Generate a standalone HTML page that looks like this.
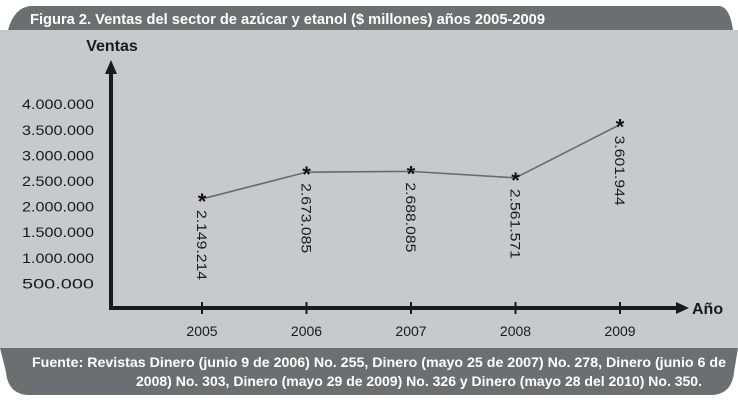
<!DOCTYPE html>
<html><head><meta charset="utf-8"><style>
html,body{margin:0;padding:0;background:#fff;}
svg{display:block;font-family:"Liberation Sans Narrow","Liberation Sans",sans-serif;}
</style></head><body>
<svg width="738" height="400" viewBox="0 0 738 400">
<path d="M8,30 Q14,8 30,6 L720,6 Q730,8 733,30 Z" fill="#6d6e71"/>
<text x="30" y="24" fill="#fff" font-weight="bold" font-size="15" textLength="515" lengthAdjust="spacingAndGlyphs">Figura 2. Ventas del sector de azúcar y etanol  ($ millones) años 2005-2009</text>
<rect x="0" y="30" width="738" height="318" fill="#c8c9cb"/>
<path d="M0,348 L738,348 L734,372 Q732,394 712,395 L28,395 Q8,394 6,372 Z" fill="#6d6e71"/>
<text x="32" y="367" fill="#fff" font-weight="bold" font-size="14" textLength="694" lengthAdjust="spacingAndGlyphs">Fuente: Revistas Dinero (junio 9 de 2006)  No. 255, Dinero (mayo 25 de 2007)  No. 278, Dinero (junio 6 de</text>
<text x="136" y="386" fill="#fff" font-weight="bold" font-size="14" textLength="566" lengthAdjust="spacingAndGlyphs">2008)  No. 303,  Dinero (mayo 29 de 2009) No. 326 y Dinero (mayo 28 del 2010) No. 350.</text>
<g id="plot"></g>
</svg>
<script>
const years = ["2005","2006","2007","2008","2009"];
const sales = [2149214, 2673085, 2688085, 2561571, 3601944];
const valueLabels = ["2.149.214","2.673.085","2.688.085","2.561.571","3.601.944"];
const yTicks = [500000,1000000,1500000,2000000,2500000,3000000,3500000,4000000];
const yTickLabels = ["500.000","1.000.000","1.500.000","2.000.000","2.500.000","3.000.000","3.500.000","4.000.000"];

const NS="http://www.w3.org/2000/svg";
const g=document.getElementById('plot');
const X0=202, DX=104.5, Y0=309, PER=25.6/500000;
const xs=i=>X0+i*DX;
const ys=v=>Y0-v*PER;
function mk(t,a,txt){const e=document.createElementNS(NS,t);for(const k in a)e.setAttribute(k,a[k]);if(txt!=null)e.textContent=txt;g.appendChild(e);return e;}

let e;
e=mk('line',{x1:111,y1:308,x2:111,y2:72,stroke:'#1a1a1a','stroke-width':4});


e=mk('polygon',{points:'105,74 117,74 111,60',fill:'#1a1a1a'});


e=mk('line',{x1:109,y1:308,x2:678,y2:308,stroke:'#1a1a1a','stroke-width':4});


e=mk('polygon',{points:'676,302 676,314 689,308',fill:'#1a1a1a'});


e=mk('text',{x:112,y:51,'text-anchor':'middle','font-size':16,'font-weight':'bold',fill:'#1a1a1a'},'Ventas');


e=mk('text',{x:692,y:314,'font-size':16,'font-weight':'bold',fill:'#1a1a1a'},'Año');



yTicks.forEach((v,i)=>{
  const t=mk('text',{x:94,y:ys(v)+5,'text-anchor':'end','font-size':14,fill:'#1a1a1a','font-family':'Liberation Sans, sans-serif',textLength:72,lengthAdjust:'spacingAndGlyphs'},yTickLabels[i]);
  
  
});
years.forEach((y,i)=>{
  const tk=mk('line',{x1:xs(i),y1:302,x2:xs(i),y2:314,stroke:'#1a1a1a','stroke-width':2});
  
  
  const t=mk('text',{x:xs(i),y:336,'text-anchor':'middle','font-size':14,fill:'#1a1a1a','font-family':'Liberation Sans, sans-serif'},y);
  
  
});
const pts=sales.map((v,i)=>xs(i)+','+ys(v)).join(' ');
e=mk('polyline',{points:pts,fill:'none',stroke:'#6a6a6a','stroke-width':1.6});


sales.forEach((v,i)=>{
  const x=xs(i),y=ys(v);
  const m=mk('text',{x:x,y:y+10,'text-anchor':'middle','font-size':22,'font-weight':'bold',fill:'#111','font-family':'Liberation Sans, sans-serif'},'*');
  
  
  const l=mk('text',{x:0,y:0,'font-size':14,fill:'#1a1a1a','font-family':'Liberation Sans, sans-serif',transform:'translate('+(x-5)+','+(y+11)+') rotate(90)',textLength:70,lengthAdjust:'spacingAndGlyphs'},valueLabels[i]);
  
  
});
</script>
</body></html>
